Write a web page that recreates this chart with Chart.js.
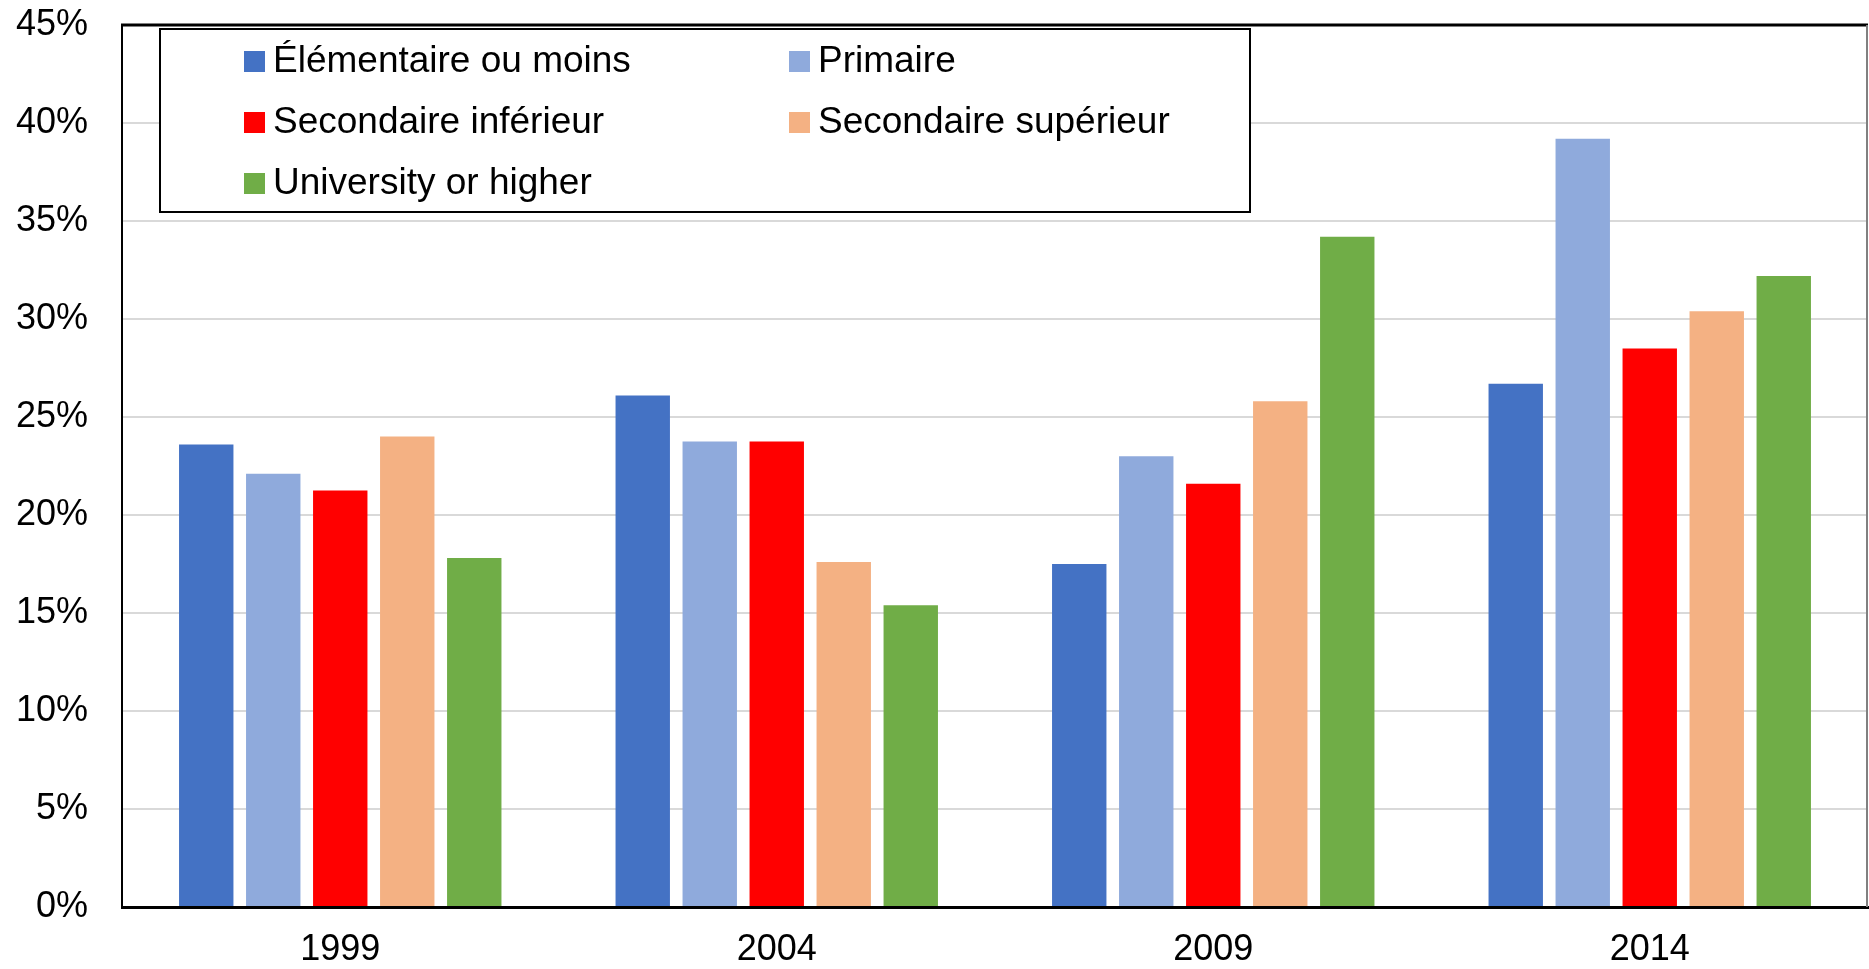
<!DOCTYPE html>
<html>
<head>
<meta charset="utf-8">
<style>
  html, body { margin: 0; padding: 0; background: #fff; }
  #wrap { width: 1869px; height: 969px; }
</style>
<script src="https://cdn.jsdelivr.net/npm/chart.js@4"></script>
</head>
<body>
<div id="wrap"><canvas id="myChart"></canvas></div>
<script>
// donnees (%)
const years = ['1999', '2004', '2009', '2014'];
const seriesNames = ['Élémentaire ou moins', 'Primaire', 'Secondaire inférieur', 'Secondaire supérieur', 'University or higher'];
const seriesColors = ['#4472C4', '#8FAADC', '#FF0000', '#F4B183', '#70AD47'];
const elementaire = [23.6, 26.1, 17.5, 26.7];
const primaire = [22.1, 23.75, 23.0, 39.2];
const secInferieur = [21.25, 23.75, 21.6, 28.5];
const secSuperieur = [24.0, 17.6, 25.8, 30.4];
const university = [17.8, 15.4, 34.2, 32.2];
const yTicks = [0, 5, 10, 15, 20, 25, 30, 35, 40, 45];

const values = [elementaire, primaire, secInferieur, secSuperieur, university];
const FONT = 'Liberation Sans, Arial, sans-serif';

// cadre du graphique + legende en boite (2 colonnes)
const framePlugin = {
  id: 'frame',
  afterDraw(chart) {
    const c = chart.ctx;
    const a = chart.chartArea;
    c.save();
    c.strokeStyle = '#000';
    c.lineWidth = 3;
    c.beginPath();
    c.moveTo(a.left - 1, a.top);
    c.lineTo(a.right, a.top);
    c.stroke();
    c.strokeStyle = '#808080';
    c.lineWidth = 2;
    c.beginPath();
    c.moveTo(a.right - 1, a.top);
    c.lineTo(a.right - 1, a.bottom);
    c.stroke();

    // legende
    const box = { x: 160, y: 29, w: 1090, h: 183 };
    c.fillStyle = '#fff';
    c.fillRect(box.x, box.y, box.w, box.h);
    c.strokeStyle = '#000';
    c.lineWidth = 2;
    c.strokeRect(box.x, box.y, box.w, box.h);
    c.font = '37px ' + FONT;
    c.textBaseline = 'middle';
    c.textAlign = 'left';
    chart.data.datasets.forEach((ds, i) => {
      const col = i % 2, row = Math.floor(i / 2);
      const sx = 244 + col * 545;
      const cy = 61 + row * 61;
      c.fillStyle = ds.backgroundColor;
      c.fillRect(sx, cy - 10, 21, 21);
      c.fillStyle = '#000';
      c.fillText(ds.label, sx + 29, cy + 1);
    });
    c.restore();
  }
};

const ctx = document.getElementById('myChart');

new Chart(ctx, {
  type: 'bar',
  data: {
    labels: years,
    datasets: seriesNames.map((name, i) => ({
      label: name,
      data: values[i],
      backgroundColor: seriesColors[i],
      borderWidth: 0,
      categoryPercentage: 0.7675,
      barPercentage: 0.812
    }))
  },
  options: {
    responsive: true,
    maintainAspectRatio: false,
    animation: false,
    layout: { padding: { top: 25, right: 1, left: 0, bottom: 0 } },
    plugins: {
      legend: { display: false },
      tooltip: { enabled: false }
    },
    scales: {
      x: {
        grid: { display: false, drawTicks: false },
        border: { color: '#000', width: 3 },
        ticks: { color: '#000', font: { family: FONT, size: 36 }, padding: 21 },
        afterFit(scale) {
          scale.height = 62;
          scale.paddingLeft = 0;
          scale.paddingRight = 0;
        }
      },
      y: {
        min: 0,
        max: 45,
        afterBuildTicks(scale) { scale.ticks = yTicks.map(v => ({ value: v })); },
        grid: { color: '#D9D9D9', lineWidth: 2, drawTicks: false },
        border: { color: '#000', width: 2 },
        ticks: {
          color: '#000',
          font: { family: FONT, size: 36 },
          padding: 34,
          callback: v => v + '%'
        },
        afterFit(scale) {
          scale.width = 122;
          scale.paddingTop = 0;
          scale.paddingBottom = 0;
        }
      }
    }
  },
  plugins: [framePlugin]
});
</script>
</body>
</html>
